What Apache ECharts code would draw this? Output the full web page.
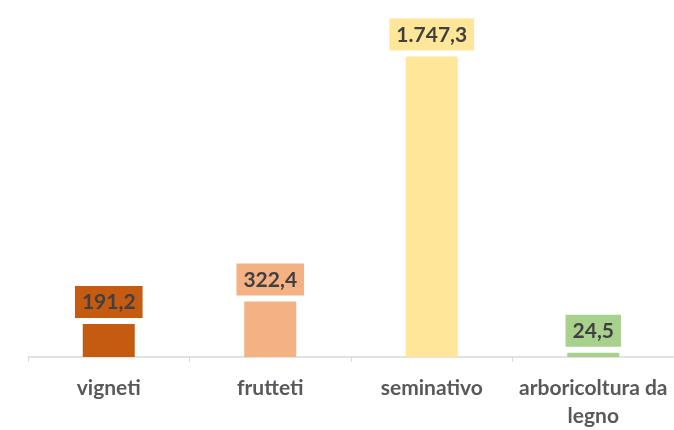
<!DOCTYPE html>
<html>
<head>
<meta charset="utf-8">
<script src="https://cdn.jsdelivr.net/npm/echarts@6/dist/echarts.min.js"></script>
<style>html,body{margin:0;padding:0;background:#fff}#c{width:674px;height:430px}</style>
</head>
<body>
<div id="c"></div>
<script>
var categories = ['vigneti', 'frutteti', 'seminativo', 'arboricoltura da\nlegno'];
var values = [191.2, 322.4, 1747.3, 24.5];
var colors = ['#C55A11', '#F4B183', '#FFE699', '#A9D18E'];

function fmt(v) {
  var parts = v.toFixed(1).split('.');
  var intPart = parts[0].replace(/\B(?=(\d{3})+(?!\d))/g, '.');
  return intPart + ',' + parts[1];
}

var chart = echarts.init(document.getElementById('c'));
chart.setOption({
  animation: false,
  grid: { left: 28, right: -6, top: 13, bottom: 68 },
  xAxis: {
    type: 'category',
    data: categories,
    axisLine: { lineStyle: { color: '#D9D9D9', width: 1.5 } },
    axisTick: { show: true, length: 5, lineStyle: { color: '#D9D9D9' } },
    axisLabel: {
      color: '#595959', fontSize: 21, fontWeight: 'bold',
      fontFamily: 'Lato', margin: 17, lineHeight: 28, interval: 0
    }
  },
  yAxis: { type: 'value', min: 0, max: 2000, show: false, splitLine: { show: false } },
  series: [{
    type: 'bar',
    barWidth: 52,
    data: values.map(function (v, i) {
      return {
        value: v,
        itemStyle: { color: colors[i] },
        label: { backgroundColor: colors[i] }
      };
    }),
    label: {
      show: true,
      position: 'top',
      distance: 6,
      formatter: function (p) { return fmt(p.value); },
      color: '#404040',
      fontSize: 21,
      fontWeight: 'bold',
      fontFamily: 'Lato',
      lineHeight: 21,
      padding: [6, 7, 5, 7]
    }
  }]
});
</script>
</body>
</html>
